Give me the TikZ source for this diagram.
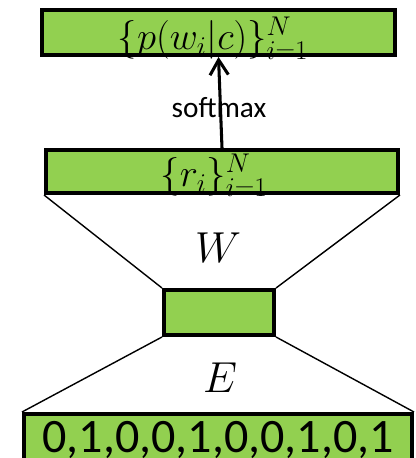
\RequirePackage{fix-cm}
\documentclass[tikz,border=0pt]{standalone}
\usepackage{fontspec}
\newfontfamily\calibri{Carlito}
\usetikzlibrary{arrows.meta}
\definecolor{boxgreen}{RGB}{146,208,80}
\tikzset{
	layerbox/.style={draw=black, fill=boxgreen, line width=3.4pt, inner sep=0pt},
	funnel/.style={line width=1.2pt},
}

\begin{document}
\begin{tikzpicture}[x=0.03cm, y=-0.03cm]
		%%%%% START %%%%%
		
		\clip (0, 0) rectangle (415, 458);
		
		\node[layerbox, minimum width=353*0.03cm, minimum height=45*0.03cm] (probs) at (218.5, 32.5) {};
		\node[layerbox, minimum width=352*0.03cm, minimum height=43*0.03cm] (reps) at (222, 171.5) {};
		\node[layerbox, minimum width=110*0.03cm, minimum height=45*0.03cm] (hidden) at (219, 312.5) {};
		\node[layerbox, minimum width=388*0.03cm, minimum height=66*0.03cm] (onehot) at (218, 447) {};
		
		\node[anchor=base, font=\fontsize{33}{40}\selectfont] (probtext) at (213, 50) {$\{p(w_i|c)\}_{i=1}^N$};
		\node[anchor=base, font=\fontsize{33}{40}\selectfont] (reptext) at (214, 187) {$\{r_i\}_{i=1}^N$};
		\node[anchor=base, font=\calibri\fontsize{41}{49}\selectfont] (bits) at (218, 452) {0,1,0,0,1,0,0,1,0,1};
		
		\draw[funnel] (reps.south west) -- (hidden.north west);
		\draw[funnel] (reps.south east) -- (hidden.north east);
		\draw[funnel] (hidden.south west) -- (onehot.north west);
		\draw[funnel] (hidden.south east) -- (onehot.north east);
		
		\node[anchor=base, font=\fontsize{37}{44}\selectfont] (wlab) at (218, 262) {$W$};
		\node[anchor=base, font=\fontsize{37}{44}\selectfont] (elab) at (220, 392) {$E$};
		
		\node[font=\calibri\fontsize{25}{30}\selectfont] (smax) at (219, 108) {softmax};
		\draw[line width=2.6pt, -{Straight Barb[length=4.5mm, width=5.5mm]}] (reps.north) -- (probs.south);
		
		%%%%% END %%%%%
\end{tikzpicture}
\end{document}
